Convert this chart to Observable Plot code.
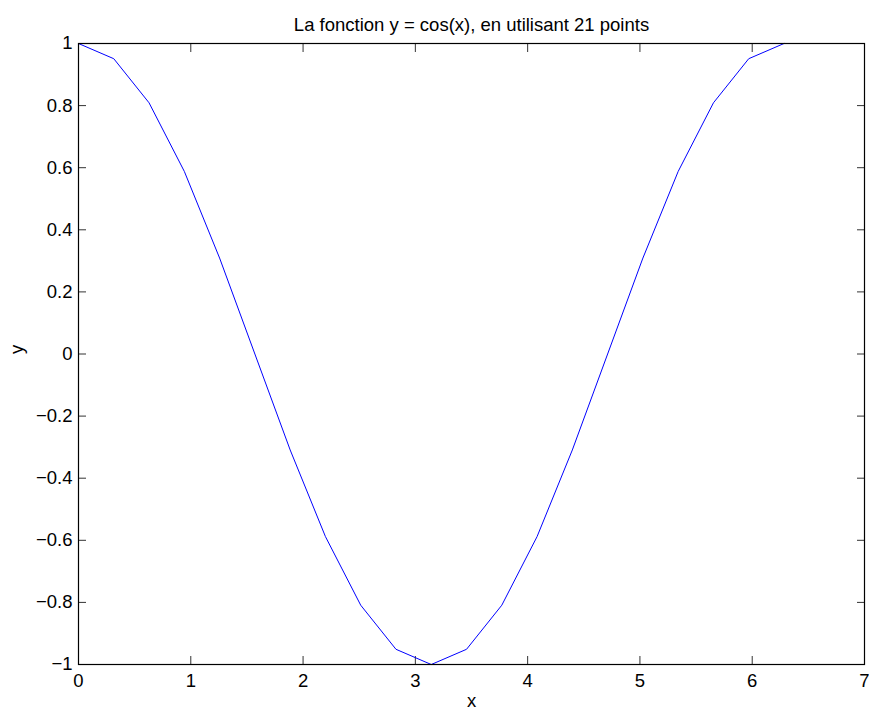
<!DOCTYPE html>
<html><head><meta charset="utf-8">
<script src="https://cdn.jsdelivr.net/npm/d3@7"></script>
<script src="https://cdn.jsdelivr.net/npm/@observablehq/plot@0.6"></script>
<style>html,body{margin:0;padding:0;background:#fff;} svg{display:block;}</style>
</head><body><div id="chart"></div>
<script>
const titleText = "La fonction y = cos(x), en utilisant 21 points";
const xLabel = "x";
const yLabel = "y";
const xValues = [0, 0.3142, 0.6283, 0.9425, 1.2566, 1.5708, 1.8850, 2.1991, 2.5133, 2.8274, 3.1416, 3.4558, 3.7699, 4.0841, 4.3982, 4.7124, 5.0265, 5.3407, 5.6549, 5.9690, 6.2832];
const yValues = [1, 0.951, 0.809, 0.588, 0.309, 0, -0.309, -0.588, -0.809, -0.951, -1, -0.951, -0.809, -0.588, -0.309, 0, 0.309, 0.588, 0.809, 0.951, 1];
const xTicks = [0, 1, 2, 3, 4, 5, 6, 7];
const yTicks = [-1, -0.8, -0.6, -0.4, -0.2, 0, 0.2, 0.4, 0.6, 0.8, 1];

const data = xValues.map((x, i) => ({x, y: yValues[i]}));
const font = "'Liberation Sans', Arial, Helvetica, sans-serif";
const fs = 18.5;

const chart = Plot.plot({
  width: 869,
  height: 711,
  marginLeft: 78,
  marginRight: 5,
  marginTop: 43,
  marginBottom: 47,
  style: {fontFamily: font, fontSize: fs + "px", color: "black", background: "white"},
  x: {domain: [0, 7]},
  y: {domain: [-1, 1]},
  marks: [
    Plot.axisX(xTicks, {anchor: "bottom", tickSize: 0, tickPadding: 9, label: null, fontSize: fs}),
    Plot.axisY(yTicks, {anchor: "left", tickSize: 0, tickPadding: 6, label: null, fontSize: fs, tickFormat: d => d3.format("")(d).replace("-", "\u2212")}),
    Plot.axisX(xTicks, {anchor: "bottom", tickSize: -8, text: null, label: null, stroke: "#333"}),
    Plot.axisX(xTicks, {anchor: "top", tickSize: -8, text: null, label: null, stroke: "#333"}),
    Plot.axisY(yTicks, {anchor: "left", tickSize: -8, text: null, label: null, stroke: "#333"}),
    Plot.axisY(yTicks, {anchor: "right", tickSize: -8, text: null, label: null, stroke: "#333"}),
    Plot.line(data, {x: "x", y: "y", stroke: "#0000ff", strokeWidth: 1}),
    Plot.frame({stroke: "black", strokeWidth: 1.2}),
    Plot.text([titleText], {frameAnchor: "top", lineAnchor: "top", dy: -26, text: d => d, fontSize: fs, fill: "black"}),
    Plot.text([xLabel], {frameAnchor: "bottom", lineAnchor: "middle", dy: 37, text: d => d, fontSize: fs, fill: "black"}),
    Plot.text([yLabel], {frameAnchor: "left", dx: -61, rotate: -90, text: d => d, fontSize: fs, fill: "black"})
  ]
});
document.getElementById("chart").appendChild(chart);
</script></body></html>
